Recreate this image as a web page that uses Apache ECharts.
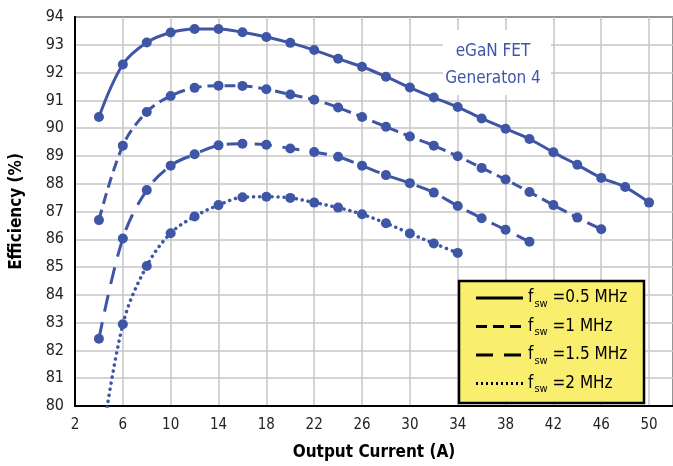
<!DOCTYPE html>
<html>
<head>
<meta charset="utf-8">
<script src="https://cdn.jsdelivr.net/npm/echarts@6/dist/echarts.min.js"></script>
<style>
  html, body { margin: 0; padding: 0; background: #fff; }
  #chart { width: 673px; height: 466px; }
</style>
</head>
<body>
<div id="chart"></div>
<script>
// output current (A)
const current = [4, 6, 8, 10, 12, 14, 16, 18, 20, 22, 24, 26, 28, 30, 32, 34, 36, 38, 40, 42, 44, 46, 48, 50];

// efficiency (%) per switching frequency
const eff05 = [90.40, 92.29, 93.08, 93.44, 93.57, 93.57, 93.45, 93.28, 93.07, 92.81, 92.50, 92.21,
  91.85, 91.46, 91.10, 90.76, 90.35, 89.98, 89.61, 89.13, 88.68, 88.21, 87.88, 87.32];
const eff1 = [86.69, 89.37, 90.58, 91.16, 91.45, 91.53, 91.52, 91.40, 91.21, 91.02, 90.74, 90.40,
  90.05, 89.70, 89.37, 88.99, 88.57, 88.15, 87.70, 87.23, 86.78, 86.36];
const eff15 = [82.42, 86.03, 87.77, 88.65, 89.06, 89.38, 89.44, 89.40, 89.27, 89.14, 88.97, 88.65,
  88.31, 88.02, 87.68, 87.20, 86.76, 86.34, 85.91];
const eff2 = [78.0, 82.94, 85.04, 86.22, 86.82, 87.23, 87.51, 87.53, 87.49, 87.32, 87.14, 86.90,
  86.58, 86.21, 85.85, 85.51];

const legendNames = ['0.5 MHz', '1 MHz', '1.5 MHz', '2 MHz'];

const blue = '#3f56a6';
const font = '"DejaVu Sans Condensed", "Liberation Sans Narrow", sans-serif';

const pairs = (vals) => vals.map((v, i) => [current[i], v]);

const makeSeries = (name, vals, dash, width, cap) => ({
  name: name,
  type: 'line',
  data: pairs(vals),
  smooth: 0.35,
  symbol: 'circle',
  symbolSize: 10,
  clip: true,
  itemStyle: { color: blue },
  lineStyle: { color: blue, width: width, type: dash, cap: cap || 'butt' }
});

const myChart = echarts.init(document.getElementById('chart'));

// legend samples (black, like the original)
const dashes = [null, [11, 6], [17, 11], [2, 3]];
const legendRows = [];
legendNames.forEach((n, i) => {
  const y = 298 + i * 28.5;
  legendRows.push({
    type: 'line', z: 12,
    shape: { x1: 476, y1: y, x2: 523, y2: y },
    style: { stroke: '#000', lineWidth: 3, lineDash: dashes[i] }
  });
  legendRows.push({
    type: 'text', z: 12,
    x: 528, y: y,
    style: {
      text: '{f|f}{s|sw}{v| =' + n + '}',
      verticalAlign: 'middle',
      rich: {
        f: { fontSize: 17, fontFamily: font, fill: '#000' },
        s: { fontSize: 11, fontFamily: font, fill: '#000', padding: [12, 0, 0, 1] },
        v: { fontSize: 17, fontFamily: font, fill: '#000' }
      }
    }
  });
});

myChart.setOption({
  animation: false,
  grid: {
    left: 73, right: -6, top: 17, bottom: 58,
    show: true, borderColor: '#000', borderWidth: 2
  },
  xAxis: {
    type: 'value',
    min: 2, max: 52, interval: 4,
    name: 'Output Current (A)',
    nameLocation: 'middle',
    nameGap: 38,
    nameTextStyle: { fontFamily: font, fontWeight: 'bold', fontSize: 17, color: '#000' },
    axisLine: { show: true, lineStyle: { color: '#000', width: 2 } },
    axisTick: { show: false },
    axisLabel: { fontFamily: font, fontSize: 15, color: '#222', margin: 12, showMaxLabel: false },
    splitLine: { show: true, lineStyle: { color: '#c6c6c6', width: 1.5 } }
  },
  yAxis: {
    type: 'value',
    min: 80, max: 94, interval: 1,
    name: 'Efficiency (%)',
    nameLocation: 'middle',
    nameGap: 50,
    nameTextStyle: { fontFamily: font, fontWeight: 'bold', fontSize: 17, color: '#000' },
    axisLine: { show: true, lineStyle: { color: '#000', width: 2 } },
    axisTick: { show: false },
    axisLabel: { fontFamily: font, fontSize: 16, color: '#222', margin: 11 },
    splitLine: { show: true, lineStyle: { color: '#c6c6c6', width: 1.5 } }
  },
  series: [
    makeSeries(legendNames[0], eff05, 'solid', 3),
    makeSeries(legendNames[1], eff1, [11, 6], 3),
    makeSeries(legendNames[2], eff15, [17, 11], 3),
    makeSeries(legendNames[3], eff2, [0.1, 6], 3.5, 'round')
  ],
  graphic: [
    {
      type: 'rect', z: 10,
      shape: { x: 443, y: 30, width: 108, height: 65 },
      style: { fill: '#fff' }
    },
    {
      type: 'text', x: 493, y: 52, z: 11,
      style: { text: 'eGaN FET', fontFamily: font, fontSize: 17, fill: blue, align: 'center', verticalAlign: 'middle' }
    },
    {
      type: 'text', x: 493, y: 79, z: 11,
      style: { text: 'Generaton 4', fontFamily: font, fontSize: 17, fill: blue, align: 'center', verticalAlign: 'middle' }
    },
    {
      type: 'rect', z: 10,
      shape: { x: 459, y: 281, width: 185, height: 122 },
      style: { fill: '#f9ee6e', stroke: '#000', lineWidth: 2.5 }
    }
  ].concat(legendRows)
});
</script>
</body>
</html>
